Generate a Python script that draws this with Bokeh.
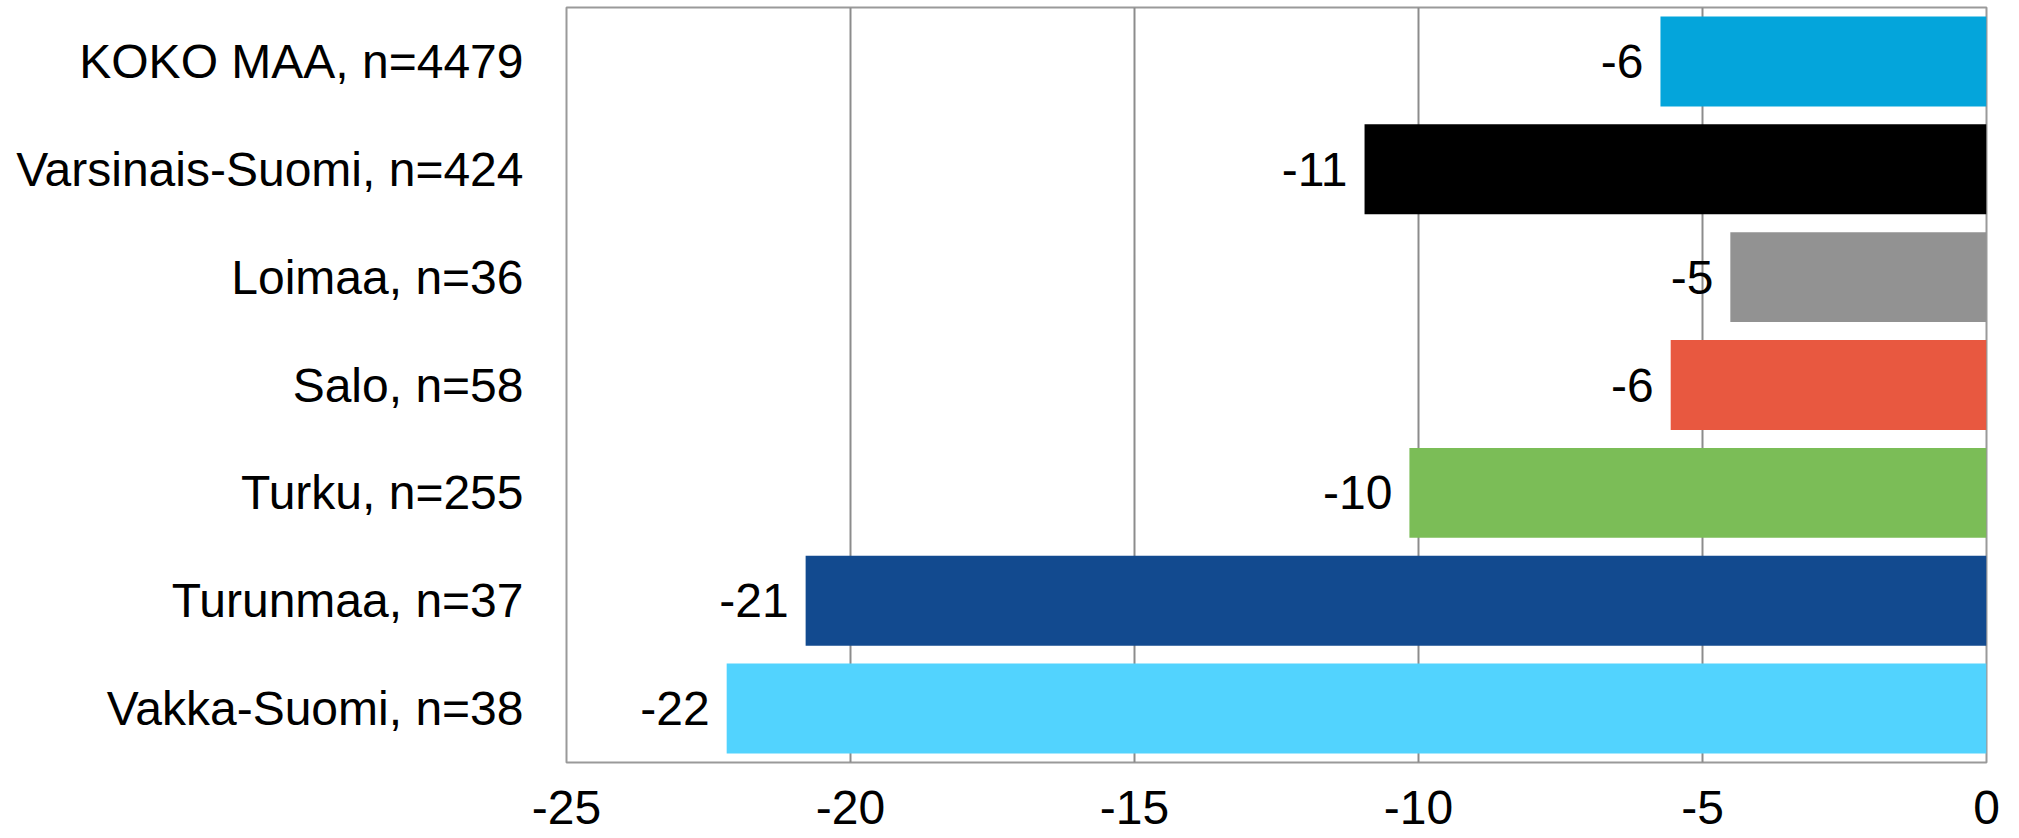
from bokeh.plotting import figure
from bokeh.models import ColumnDataSource, FactorRange, Range1d, FixedTicker
from bokeh.core.properties import value
from bokeh.embed import file_html
from bokeh.resources import INLINE

categories = ["KOKO MAA, n=4479", "Varsinais-Suomi, n=424", "Loimaa, n=36",
              "Salo, n=58", "Turku, n=255", "Turunmaa, n=37", "Vakka-Suomi, n=38"]
values = [-5.74, -10.95, -4.51, -5.56, -10.16, -20.79, -22.18]
labels = ["-6", "-11", "-5", "-6", "-10", "-21", "-22"]
colors = ["#04A5DB", "#000000", "#929292", "#E85840", "#7BBD57", "#124A8F", "#52D3FE"]
x_ticks = [-25, -20, -15, -10, -5, 0]
x_tick_labels = ["-25", "-20", "-15", "-10", "-5", "0"]

FONT = "Liberation Sans"

src = ColumnDataSource(dict(cat=categories, val=values, lab=labels, col=colors))

p = figure(width=2011, height=836, output_backend="svg", toolbar_location=None,
           y_range=FactorRange(*list(reversed(categories)), range_padding=0),
           x_range=Range1d(-25, 0),
           min_border_left=566, min_border_right=25, min_border_top=7, min_border_bottom=74)

p.hbar(y="cat", right=0, left="val", height=0.834, fill_color="col", line_color=None, source=src)

p.text(x="val", y="cat", text="lab", source=src, x_offset=-17,
       text_align="right", text_baseline="middle",
       text_font=value(FONT), text_font_size="48px", text_color="#000000")

p.outline_line_color = "#9a9a9a"
p.outline_line_width = 2

p.xgrid.ticker = FixedTicker(ticks=x_ticks)
p.xgrid.grid_line_color = "#8c8c8c"
p.xgrid.grid_line_width = 2
p.ygrid.grid_line_color = None

p.xaxis.ticker = FixedTicker(ticks=x_ticks)
p.xaxis.major_label_overrides = {t: s for t, s in zip(x_ticks, x_tick_labels)}
p.xaxis.axis_line_color = None
p.xaxis.major_tick_line_color = None
p.xaxis.minor_tick_line_color = None
p.xaxis.major_tick_out = 0
p.xaxis.major_tick_in = 0
p.xaxis.major_label_standoff = 28
p.xaxis.major_label_text_font = FONT
p.xaxis.major_label_text_font_size = "48px"
p.xaxis.major_label_text_color = "#000000"

p.yaxis.axis_line_color = None
p.yaxis.major_tick_line_color = None
p.yaxis.minor_tick_line_color = None
p.yaxis.major_tick_out = 0
p.yaxis.major_tick_in = 0
p.yaxis.major_label_standoff = 43
p.yaxis.major_label_text_font = FONT
p.yaxis.major_label_text_font_size = "48px"
p.yaxis.major_label_text_color = "#000000"

p.background_fill_color = "white"
p.border_fill_color = "white"

open("out.html", "w").write(file_html(p, INLINE))
